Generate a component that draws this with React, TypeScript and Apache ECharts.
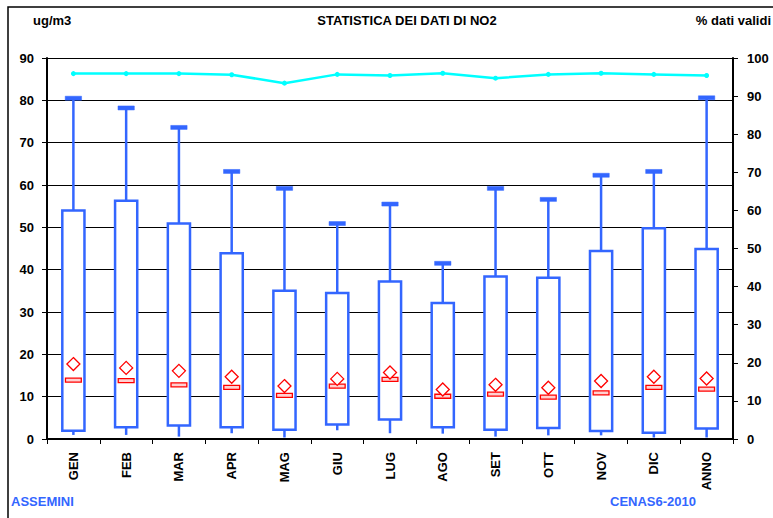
import React, { useEffect, useRef } from "react";
import * as echarts from "echarts";

const categories = ["GEN", "FEB", "MAR", "APR", "MAG", "GIU", "LUG", "AGO", "SET", "OTT", "NOV", "DIC", "ANNO"];
const whiskerMax = [80.5, 78.2, 73.6, 63.2, 59.2, 50.9, 55.5, 41.5, 59.2, 56.6, 62.3, 63.2, 80.6];
const q3 = [54.0, 56.3, 50.9, 43.9, 35.0, 34.5, 37.2, 32.1, 38.4, 38.1, 44.4, 49.8, 44.9];
const median = [13.9, 13.8, 12.8, 12.2, 10.3, 12.5, 14.1, 10.1, 10.6, 9.9, 10.9, 12.2, 11.8];
const q1 = [1.95, 2.8, 3.2, 2.8, 2.2, 3.4, 4.6, 2.8, 2.2, 2.6, 1.9, 1.5, 2.5];
const whiskerMin = [1.2, 1.2, 0.8, 1.6, 0.6, 2.3, 1.6, 1.5, 0.8, 1.1, 1.1, 0.6, 0.6];
const mean = [17.7, 16.8, 16.1, 14.7, 12.5, 14.2, 15.7, 11.7, 12.8, 12.1, 13.7, 14.7, 14.3];
const validPct = [95.9, 95.9, 95.9, 95.6, 93.4, 95.7, 95.4, 96.0, 94.7, 95.7, 96.0, 95.7, 95.4];

const FONT = "'Liberation Sans', Arial, sans-serif";
const BLUE = "#3366FF";
const RED = "#FF0000";

export default function App() {
  const ref = useRef<HTMLDivElement>(null);
  useEffect(() => {
    if (!ref.current) return;
    const chart = echarts.init(ref.current, null, { renderer: "svg" });
    const boxData = categories.map((_, i) => [i, whiskerMax[i], q3[i], median[i], q1[i], whiskerMin[i], mean[i]]);
    chart.setOption({
      animation: false,
      backgroundColor: "#fff",
      textStyle: { fontFamily: FONT },
      grid: { left: 47, right: 40, top: 58, bottom: 79, containLabel: false },
      graphic: [
        { type: "rect", shape: { x: 8, y: 7, width: 900, height: 700 }, style: { fill: "none", stroke: "#000", lineWidth: 1.5 }, silent: true },
        { type: "text", x: 33, y: 20, style: { text: "ug/m3", font: `bold 13px ${FONT}`, fill: "#000", textVerticalAlign: "middle" } },
        { type: "text", x: 407, y: 20, style: { text: "STATISTICA DEI DATI DI NO2", font: `bold 13px ${FONT}`, fill: "#000", textAlign: "center", textVerticalAlign: "middle" } },
        { type: "text", x: 771, y: 20, style: { text: "% dati validi", font: `bold 13px ${FONT}`, fill: "#000", textAlign: "right", textVerticalAlign: "middle" } },
        { type: "text", x: 11, y: 501, style: { text: "ASSEMINI", font: `bold 13px ${FONT}`, fill: BLUE, textVerticalAlign: "middle" } },
        { type: "text", x: 610, y: 501, style: { text: "CENAS6-2010", font: `bold 13px ${FONT}`, fill: BLUE, textVerticalAlign: "middle" } },
      ],
      xAxis: {
        type: "category",
        data: categories,
        boundaryGap: true,
        axisLine: { lineStyle: { color: "#000", width: 2 } },
        axisTick: { show: true, length: 5, lineStyle: { color: "#000", width: 1 } },
        axisLabel: { rotate: 90, margin: 13, color: "#000", fontWeight: "bold", fontSize: 13, fontFamily: FONT },
        splitLine: { show: false },
      },
      yAxis: [
        {
          type: "value",
          min: 0,
          max: 90,
          interval: 10,
          axisLine: { show: true, lineStyle: { color: "#000", width: 2 } },
          axisTick: { show: true, length: 5, lineStyle: { color: "#000" } },
          axisLabel: { margin: 13, color: "#000", fontWeight: "bold", fontSize: 13, fontFamily: FONT },
          splitLine: { show: true, lineStyle: { color: "#000", width: 1 } },
        },
        {
          type: "value",
          min: 0,
          max: 100,
          interval: 10,
          position: "right",
          axisLine: { show: true, lineStyle: { color: "#000", width: 2 } },
          axisTick: { show: true, length: 5, lineStyle: { color: "#000" } },
          axisLabel: { margin: 14, color: "#000", fontWeight: "bold", fontSize: 13, fontFamily: FONT },
          splitLine: { show: false },
        },
      ],
      series: [
        {
          type: "custom",
          xAxisIndex: 0,
          yAxisIndex: 0,
          encode: { x: 0, y: [1, 2, 3, 4, 5, 6] },
          data: boxData,
          z: 3,
          renderItem: (params: any, api: any) => {
            const idx = api.value(0);
            const pMax = api.coord([idx, api.value(1)]);
            const pQ3 = api.coord([idx, api.value(2)]);
            const pMed = api.coord([idx, api.value(3)]);
            const pQ1 = api.coord([idx, api.value(4)]);
            const pMin = api.coord([idx, api.value(5)]);
            const pMean = api.coord([idx, api.value(6)]);
            const band = api.size([1, 0])[0];
            const cx = pMax[0];
            const boxW = band * 0.42;
            const capW = band * 0.31;
            const medW = band * 0.3;
            const d = 6.5;
            return {
              type: "group",
              children: [
                { type: "line", shape: { x1: cx, y1: pMax[1], x2: cx, y2: pQ3[1] }, style: { stroke: BLUE, lineWidth: 2.5 } },
                { type: "line", shape: { x1: cx, y1: pQ1[1], x2: cx, y2: pMin[1] + 1 }, style: { stroke: BLUE, lineWidth: 2.5 } },
                { type: "rect", shape: { x: cx - boxW / 2, y: pQ3[1], width: boxW, height: pQ1[1] - pQ3[1] }, style: { fill: "#fff", stroke: BLUE, lineWidth: 2.5 } },
                { type: "rect", shape: { x: cx - capW / 2, y: pMax[1] - 2, width: capW, height: 4 }, style: { fill: BLUE, stroke: BLUE, lineWidth: 0.5 } },
                { type: "rect", shape: { x: cx - medW / 2, y: pMed[1] - 2, width: medW, height: 4 }, style: { fill: "#FFD0D0", stroke: RED, lineWidth: 1.3 } },
                {
                  type: "polygon",
                  shape: { points: [[pMean[0], pMean[1] - d], [pMean[0] + d, pMean[1]], [pMean[0], pMean[1] + d], [pMean[0] - d, pMean[1]]] },
                  style: { fill: "#fff", stroke: RED, lineWidth: 1.3 },
                },
              ],
            };
          },
        },
        {
          type: "line",
          yAxisIndex: 1,
          data: validPct,
          symbol: "circle",
          symbolSize: 5,
          itemStyle: { color: "#00FFFF" },
          lineStyle: { color: "#00FFFF", width: 2.5 },
          z: 4,
        },
      ],
    });
    return () => chart.dispose();
  }, []);
  return <div ref={ref} style={{ position: "fixed", left: 0, top: 0, width: 773, height: 518 }} />;
}
